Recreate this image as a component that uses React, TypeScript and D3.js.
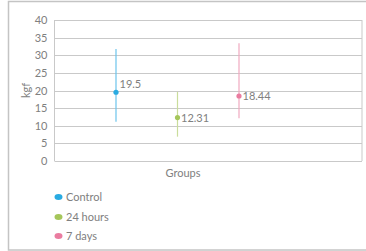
import React, { useRef, useEffect } from 'react';
import * as d3 from 'd3';

const groups = ['Control', '24 hours', '7 days'];
const means = [19.5, 12.31, 18.44];
const lows = [11.1, 6.9, 12.1];
const highs = [31.8, 19.6, 33.4];
const colors = ['#29abe2', '#a5c65a', '#ea7ca0'];
const barColors = ['#6cc4ec', '#cadd9c', '#f0a9c0'];
const yTicks = [0, 5, 10, 15, 20, 25, 30, 35, 40];

const App = () => {
  const ref = useRef<SVGSVGElement>(null);

  useEffect(() => {
    const svg = d3.select(ref.current);
    svg.selectAll('*').remove();
    const font = 'Lato, "Open Sans", sans-serif';
    const txt = '#808080';

    // outer frame
    svg.append('rect')
      .attr('x', 8.5).attr('y', 1.5).attr('width', 362).attr('height', 248.5)
      .attr('fill', '#fff').attr('stroke', '#c4c4c4').attr('stroke-width', 1.5);

    const left = 54.5, right = 362, top = 20, bottom = 161;
    const x = d3.scaleLinear().domain([0, 5]).range([left, right]);
    const y = d3.scaleLinear().domain([0, 40]).range([bottom, top]);

    // grid
    svg.selectAll('.grid').data(yTicks).enter().append('line')
      .attr('x1', left).attr('x2', right)
      .attr('y1', (d) => Math.round(y(d)) + 0.5).attr('y2', (d) => Math.round(y(d)) + 0.5)
      .attr('stroke', '#c9c9c9').attr('stroke-width', 1);
    svg.append('line')
      .attr('x1', left).attr('x2', left).attr('y1', top).attr('y2', bottom)
      .attr('stroke', '#c9c9c9');
    svg.append('line')
      .attr('x1', right).attr('x2', right).attr('y1', top).attr('y2', bottom)
      .attr('stroke', '#c9c9c9');

    // y tick labels
    svg.selectAll('.yt').data(yTicks).enter().append('text')
      .attr('x', 47.5).attr('y', (d) => y(d) + 4)
      .attr('text-anchor', 'end').attr('font-family', font).attr('font-size', 11)
      .attr('fill', txt).text((d) => d);

    svg.append('text')
      .attr('transform', `translate(30,${y(20)}) rotate(-90)`)
      .attr('text-anchor', 'middle').attr('font-family', font).attr('font-size', 11)
      .attr('fill', txt).text('kgf');

    svg.append('text')
      .attr('x', 183).attr('y', 177).attr('text-anchor', 'middle')
      .attr('font-family', font).attr('font-size', 11).attr('fill', txt).text('Groups');

    // error bars + points
    groups.forEach((g, i) => {
      const cx = x(i + 1);
      svg.append('line')
        .attr('x1', cx).attr('x2', cx).attr('y1', y(highs[i])).attr('y2', y(lows[i]))
        .attr('stroke', barColors[i]).attr('stroke-width', 1.2);
      svg.append('circle')
        .attr('cx', cx).attr('cy', y(means[i])).attr('r', 2.6).attr('fill', colors[i]);
      svg.append('text')
        .attr('x', cx + 3.5).attr('y', y(means[i]) + (i === 0 ? -4 : 4))
        .attr('font-family', font).attr('font-size', 11).attr('fill', txt)
        .text(String(means[i]));
    });

    // legend
    const ly = [197, 217, 236];
    groups.forEach((g, i) => {
      svg.append('ellipse')
        .attr('cx', 58.5).attr('cy', ly[i]).attr('rx', 4).attr('ry', 3).attr('fill', colors[i]);
      svg.append('text')
        .attr('x', 66).attr('y', ly[i] + 4).attr('font-family', font).attr('font-size', 11)
        .attr('fill', txt).text(g);
    });
  }, []);

  return (
    <svg ref={ref} width={366} height={251}
      style={{ position: 'absolute', left: 0, top: 0 }} />
  );
};

export default App;
